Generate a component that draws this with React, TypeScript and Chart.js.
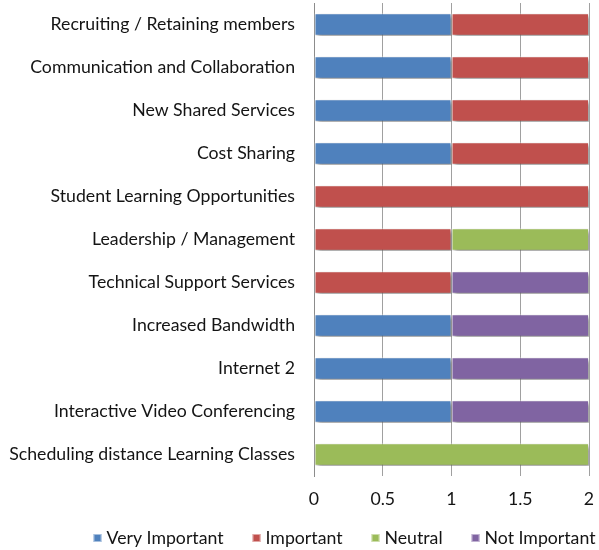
import React, { useEffect, useRef } from "react";
import { Chart, registerables } from "chart.js";
Chart.register(...registerables);

const categories = [
  "Recruiting / Retaining members",
  "Communication and Collaboration",
  "New Shared Services",
  "Cost Sharing",
  "Student Learning Opportunities",
  "Leadership / Management",
  "Technical Support Services",
  "Increased Bandwidth",
  "Internet 2",
  "Interactive Video Conferencing",
  "Scheduling distance Learning Classes",
];
const veryImportant = [1, 1, 1, 1, 0, 0, 0, 1, 1, 1, 0];
const important = [1, 1, 1, 1, 2, 1, 1, 0, 0, 0, 0];
const neutral = [0, 0, 0, 0, 0, 1, 0, 0, 0, 0, 2];
const notImportant = [0, 0, 0, 0, 0, 0, 1, 1, 1, 1, 0];
const seriesNames = ["Very Important", "Important", "Neutral", "Not Important"];
const seriesColors = ["#4F81BD", "#C0504D", "#9BBB59", "#8064A2"];
const xTickLabels = ["0", "0.5", "1", "1.5", "2"];

const FONT = "Lato";
const FS = 17.7;
const TEXT = "#141414";

export default function App() {
  const ref = useRef<HTMLCanvasElement>(null);
  useEffect(() => {
    document.body.style.margin = "0";
    const series = [veryImportant, important, neutral, notImportant];
    const chart = new Chart(ref.current!, {
      type: "bar",
      data: {
        labels: categories,
        datasets: series.map((d, i) => ({
          label: seriesNames[i],
          data: d.map((v) => (v === 0 ? null : v)),
          backgroundColor: seriesColors[i],
          borderColor: "rgba(255,255,255,0.5)",
          borderWidth: 1,
          borderSkipped: false,
          categoryPercentage: 1,
          barPercentage: 0.525,
        })),
      },
      options: {
        indexAxis: "y",
        animation: false,
        responsive: false,
        layout: { padding: { top: 3, right: 10, left: 0, bottom: 43 } },
        scales: {
          x: {
            stacked: true,
            min: 0,
            max: 2,
            ticks: {
              stepSize: 0.5,
              color: TEXT,
              padding: 13,
              font: { family: FONT, size: FS },
              callback: (_v: any, i: number) => xTickLabels[i],
            },
            grid: { color: "#a0a0a0", drawTicks: false },
            border: { display: false },
            afterFit: (s: any) => {
              s.height = 31;
              s.paddingLeft = 0;
              s.paddingRight = 0;
            },
          },
          y: {
            stacked: true,
            ticks: { color: TEXT, padding: 19, font: { family: FONT, size: FS } },
            grid: { display: false, drawTicks: false },
            border: { display: true, color: "#8c8c8c" },
            afterFit: (s: any) => {
              s.width = 314;
              s.paddingTop = 0;
              s.paddingBottom = 0;
            },
          },
        },
        plugins: {
          legend: { display: false },
          tooltip: { enabled: false },
        },
      },
      plugins: [
        {
          id: "shadow",
          beforeDatasetsDraw(ch: any) {
            ch.ctx.save();
            ch.ctx.shadowColor = "rgba(0,0,0,0.45)";
            ch.ctx.shadowOffsetX = 2;
            ch.ctx.shadowOffsetY = 3;
            ch.ctx.shadowBlur = 4;
          },
          afterDatasetsDraw(ch: any) {
            ch.ctx.restore();
          },
        },
        {
          id: "bottomLegend",
          afterDraw(ch: any) {
            const ctx = ch.ctx as CanvasRenderingContext2D;
            ctx.save();
            ctx.font = `${FS}px ${FONT}`;
            ctx.textBaseline = "middle";
            ctx.textAlign = "left";
            const box = 8, gap = 5, itemGap = 29;
            const widths = ch.data.datasets.map((ds: any) => box + gap + ctx.measureText(ds.label).width);
            const total = widths.reduce((a: number, b: number) => a + b, 0) + itemGap * (widths.length - 1);
            const centerX = 344.5;
            const cy = 538;
            let x = centerX - total / 2;
            ch.data.datasets.forEach((ds: any, i: number) => {
              ctx.fillStyle = ds.backgroundColor;
              ctx.fillRect(x, cy - box / 2, box, box);
              ctx.strokeStyle = "rgba(255,255,255,0.5)";
              ctx.lineWidth = 1;
              ctx.strokeRect(x + 0.5, cy - box / 2 + 0.5, box - 1, box - 1);
              ctx.fillStyle = TEXT;
              ctx.fillText(ds.label, x + box + gap, cy);
              x += widths[i] + itemGap;
            });
            ctx.restore();
          },
        },
      ],
    });
    return () => chart.destroy();
  }, []);
  return (
    <div style={{ width: 599, height: 550 }}>
      <canvas ref={ref} width={599} height={550} style={{ display: "block" }} />
    </div>
  );
}
